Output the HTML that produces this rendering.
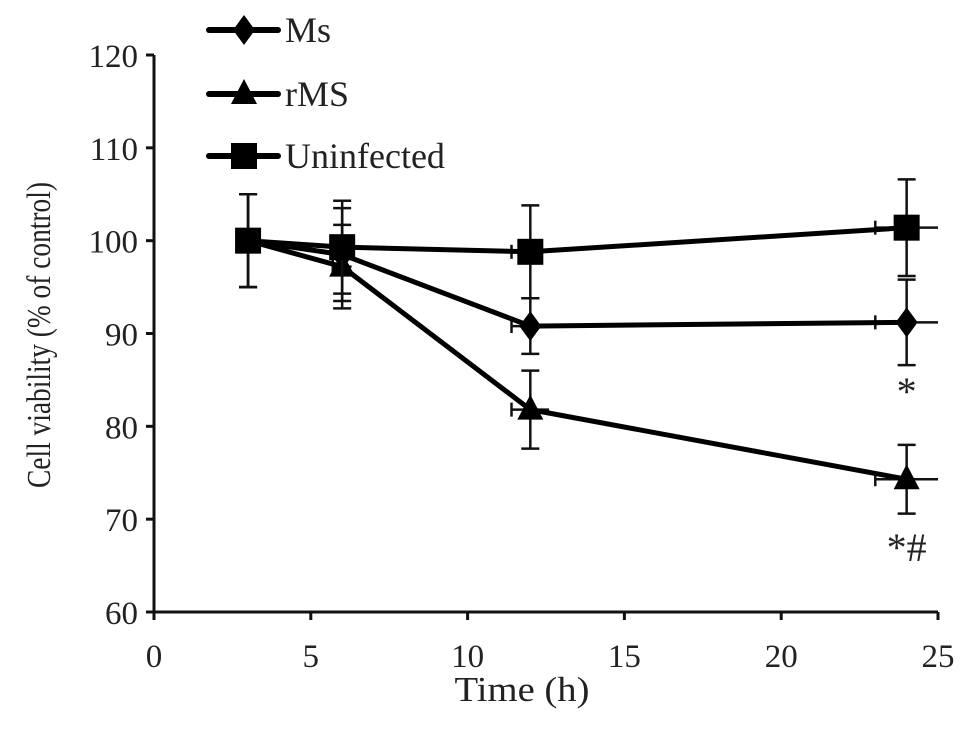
<!DOCTYPE html>
<html><head><meta charset="utf-8"><style>
html,body{margin:0;padding:0;background:#fff;}
svg text{font-family:"Liberation Serif",serif;fill:#222;}
</style></head><body>
<svg id="chart" width="969" height="742" viewBox="0 0 969 742" xmlns="http://www.w3.org/2000/svg">
<g id="axes"></g>
<g id="series"></g>
<g id="legend"></g>
<text x="50" y="335" font-size="34" text-anchor="middle" textLength="306" lengthAdjust="spacingAndGlyphs" transform="rotate(-90 50 335)">Cell viability (% of control)</text>
<text x="522" y="701" font-size="35" text-anchor="middle" textLength="135" lengthAdjust="spacingAndGlyphs">Time (h)</text>
</svg>
<script>
const times = [3, 6, 12, 24];
const msValues = [100, 98.5, 90.8, 91.2];
const msErr = [5, 5, 3, 4.6];
const rmsValues = [100, 97.2, 81.8, 74.3];
const rmsErr = [5, 4.5, 4.2, 3.7];
const uninfValues = [100, 99.3, 98.8, 101.4];
const uninfErr = [5, 5, 5, 5.2];
const xErr = [0, 0.3, 0.6, 1];
const xTicks = [0, 5, 10, 15, 20, 25];
const yTicks = [60, 70, 80, 90, 100, 110, 120];
const annotations = [{t: 24, v: 82.3, label: "*"}, {t: 24, v: 65.5, label: "*#"}];

const NS = "http://www.w3.org/2000/svg";
const X0 = 154, X1 = 938, Y0 = 612, Y1 = 55;
const xs = t => X0 + (t - 0) / 25 * (X1 - X0);
const ys = v => Y0 - (v - 60) / 60 * (Y0 - Y1);
function mk(tag, attrs, parent) {
  const e = document.createElementNS(NS, tag);
  for (const k in attrs) e.setAttribute(k, attrs[k]);
  parent.appendChild(e);
  return e;
}
const axes = document.getElementById("axes");
let e = mk("line", {x1: X0, y1: Y1, x2: X0, y2: Y0 + 8, stroke: "#111", "stroke-width": 3}, axes);


e = mk("line", {x1: X0 - 8, y1: Y0, x2: X1, y2: Y0, stroke: "#111", "stroke-width": 3}, axes);


yTicks.forEach(v => {
  mk("line", {x1: X0 - 8, y1: ys(v), x2: X0, y2: ys(v), stroke: "#111", "stroke-width": 3}, axes);
  const t = mk("text", {x: X0 - 16, y: ys(v) + 12, "font-size": 33, "text-anchor": "end"}, axes);
  t.textContent = v;
  
  
});
xTicks.forEach(v => {
  mk("line", {x1: xs(v), y1: Y0, x2: xs(v), y2: Y0 + 8, stroke: "#111", "stroke-width": 3}, axes);
  const t = mk("text", {x: xs(v), y: Y0 + 55, "font-size": 33, "text-anchor": "middle"}, axes);
  t.textContent = v;
  
  
});

function marker(kind, cx, cy, parent) {
  if (kind === "diamond") return mk("polygon", {points: `${cx},${cy-15} ${cx+11},${cy} ${cx},${cy+15} ${cx-11},${cy}`, fill: "#000"}, parent);
  if (kind === "triangle") return mk("polygon", {points: `${cx},${cy-15} ${cx+13},${cy+10} ${cx-13},${cy+10}`, fill: "#000"}, parent);
  return mk("rect", {x: cx - 13, y: cy - 13, width: 26, height: 26, fill: "#000"}, parent);
}
const series = [
  {name: "rms", vals: rmsValues, err: rmsErr, kind: "triangle"},
  {name: "ms", vals: msValues, err: msErr, kind: "diamond"},
  {name: "uninfected", vals: uninfValues, err: uninfErr, kind: "square"}
];
const sg = document.getElementById("series");
series.forEach(s => {
  const g = mk("g", {}, sg);
  
  
  times.forEach((t, i) => {
    const cx = xs(t), cy = ys(s.vals[i]);
    const top = ys(s.vals[i] + s.err[i]), bot = ys(s.vals[i] - s.err[i]);
    mk("line", {x1: cx, y1: top, x2: cx, y2: bot, stroke: "#111", "stroke-width": 2.5}, g);
    mk("line", {x1: cx - 9, y1: top, x2: cx + 9, y2: top, stroke: "#111", "stroke-width": 2.5}, g);
    mk("line", {x1: cx - 9, y1: bot, x2: cx + 9, y2: bot, stroke: "#111", "stroke-width": 2.5}, g);
    if (xErr[i] > 0) {
      const l = xs(t - xErr[i]), r = xs(t + xErr[i]);
      mk("line", {x1: l, y1: cy, x2: r, y2: cy, stroke: "#111", "stroke-width": 2.5}, g);
      mk("line", {x1: l, y1: cy - 7, x2: l, y2: cy + 7, stroke: "#111", "stroke-width": 2.5}, g);
    }
  });
  const pts = times.map((t, i) => xs(t) + "," + ys(s.vals[i])).join(" ");
  const pl = mk("polyline", {points: pts, fill: "none", stroke: "#000", "stroke-width": 5, "stroke-linejoin": "round"}, g);
  
  
  times.forEach((t, i) => {
    const m = marker(s.kind, xs(t), ys(s.vals[i]), g);
    
    
  });
});
annotations.forEach(a => {
  const t = mk("text", {x: xs(a.t), y: ys(a.v), "font-size": 40, "text-anchor": "middle"}, sg);
  t.textContent = a.label;
  
  
});

const lg = document.getElementById("legend");
const legendItems = [["Ms", "diamond", 30], ["rMS", "triangle", 94], ["Uninfected", "square", 156]];
legendItems.forEach(([label, kind, y]) => {
  const g = mk("g", {}, lg);
  
  
  mk("line", {x1: 209, y1: y, x2: 278, y2: y, stroke: "#000", "stroke-width": 6, "stroke-linecap": "round"}, g);
  marker(kind, 244, y, g);
  const t = mk("text", {x: 285, y: y + 12, "font-size": 36}, g);
  t.textContent = label;
});
</script>
</body></html>
